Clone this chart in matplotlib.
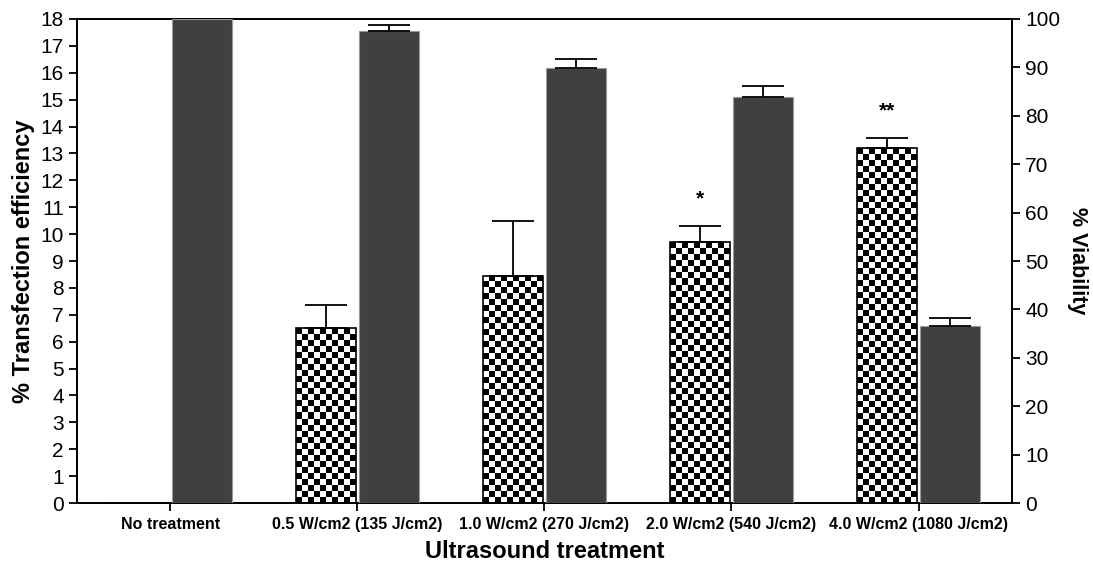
import numpy as np
import matplotlib
matplotlib.use("Agg")
import matplotlib.pyplot as plt

plt.rcParams['font.family'] = ['Liberation Sans', 'DejaVu Sans']

categories = ["No treatment", "0.5 W/cm2 (135 J/cm2)", "1.0 W/cm2 (270 J/cm2)",
              "2.0 W/cm2 (540 J/cm2)", "4.0 W/cm2 (1080 J/cm2)"]
transfection = [0.0, 6.5, 8.45, 9.7, 13.2]
transfection_err = [0.0, 0.85, 2.05, 0.62, 0.38]
viability = [100.0, 97.5, 89.9, 83.9, 36.6]
viability_err = [0.0, 1.3, 1.8, 2.3, 1.6]
stars = ["", "", "", "*", "**"]

fig = plt.figure(figsize=(10.93, 5.65), dpi=100)
ax = fig.add_axes([0.0704, 0.1097, 0.8555, 0.8567])
ax2 = ax.twinx()

x = np.arange(len(categories))
w = 0.32
off = 0.17

ax.set_xlim(-0.5, 4.5)
ax.set_ylim(0, 18)
ax2.set_ylim(0, 100)

# transfection bars: outline only, checker image filled in below
tbars = ax.bar(x - off, transfection, w, facecolor='none', edgecolor='black',
               linewidth=1.2, zorder=3)
for i in range(len(x)):
    if transfection_err[i] > 0:
        ax.errorbar(x[i] - off, transfection[i], yerr=[[0], [transfection_err[i]]],
                    fmt='none', ecolor='black', elinewidth=1.3, capsize=15,
                    capthick=1.3, zorder=4)
    if stars[i]:
        ax.text(x[i] - off, transfection[i] + transfection_err[i] + 1.0, stars[i],
                ha='center', va='center', fontsize=15, fontweight='bold')

# checkerboard fill, about 6 px squares
fig.canvas.draw()
for b in tbars:
    h = b.get_height()
    if h <= 0:
        continue
    x0, y0 = b.get_x(), b.get_y()
    p0 = ax.transData.transform((x0, y0))
    p1 = ax.transData.transform((x0 + b.get_width(), y0 + h))
    nx = max(1, int(round((p1[0] - p0[0]) / 6.0)))
    ny = max(1, int(round((p1[1] - p0[1]) / 6.0)))
    checker = (np.add.outer(np.arange(ny), np.arange(nx)) % 2).astype(float)
    ax.imshow(checker, cmap='gray', extent=(x0, x0 + b.get_width(), y0, y0 + h),
              aspect='auto', interpolation='nearest', zorder=2, origin='lower')
ax.set_xlim(-0.5, 4.5)
ax.set_ylim(0, 18)

ax2.bar(x + off, viability, w, color='#404040', edgecolor='#9a9a9a',
        linewidth=0.8, zorder=3)
for i in range(len(x)):
    if viability_err[i] > 0:
        ax2.errorbar(x[i] + off, viability[i], yerr=[[0], [viability_err[i]]],
                     fmt='none', ecolor='black', elinewidth=1.3, capsize=15,
                     capthick=1.3, zorder=4)

ax.set_xticks(x)
ax.set_xticklabels(categories, fontsize=11.5, fontweight='bold')
ax.set_yticks(np.arange(0, 19, 1))
ax2.set_yticks(np.arange(0, 101, 10))
ax.tick_params(axis='y', labelsize=15, length=6, width=1.3, direction='out')
ax2.tick_params(axis='y', labelsize=15, length=6, width=1.3, direction='out')
ax.tick_params(axis='x', length=6, width=1.3, direction='out', pad=4)

for a in (ax, ax2):
    for s in a.spines.values():
        s.set_linewidth(1.3)

ax.set_xlabel("Ultrasound treatment", fontsize=17, fontweight='bold', labelpad=6)
ax.set_ylabel("% Transfection efficiency", fontsize=17, fontweight='bold', labelpad=4)
ax2.set_ylabel("% Viability", fontsize=15.5, fontweight='bold', rotation=270, labelpad=20)

fig.savefig("out.png", dpi=100)
